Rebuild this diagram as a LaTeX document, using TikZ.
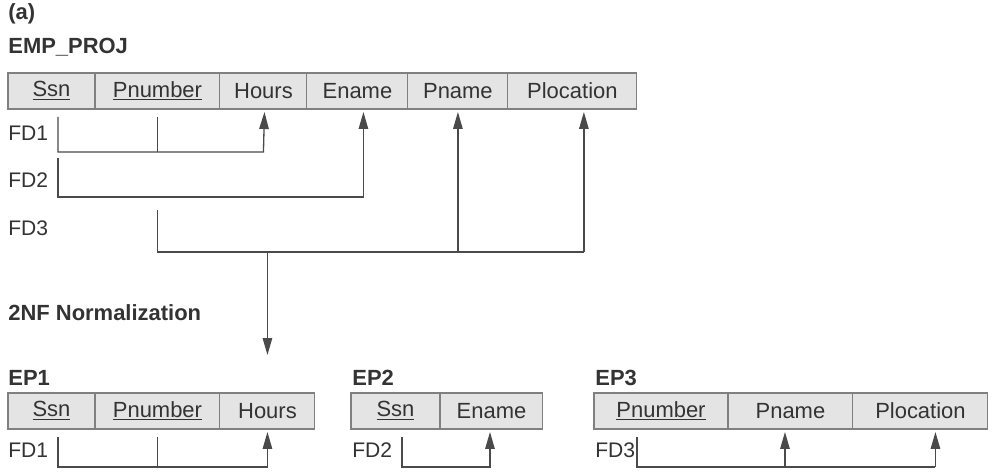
\documentclass[tikz,border=0pt]{standalone}
\usepackage{fontspec}
\setmainfont{Liberation Sans}
\usetikzlibrary{positioning, arrows.meta, calc}
\definecolor{cellFill}{HTML}{E4E4E4}
\definecolor{cellLine}{HTML}{808080}
\definecolor{inkGray}{HTML}{333333}
\definecolor{wireGray}{HTML}{4A4A4A}
\newcommand{\keyattr}[1]{\underline{#1}}

\begin{document}
\begin{tikzpicture}[x=0.02cm, y=-0.02cm,
  cell/.style={draw=cellLine, fill=cellFill, line width=0.6pt,
               minimum height=0.72cm, inner sep=0pt, outer sep=0pt,
               anchor=west, font=\fontsize{12.5}{14}\selectfont, text=inkGray},
  title/.style={anchor=west, inner sep=0pt,
                font=\bfseries\fontsize{12.5}{14}\selectfont, text=inkGray},
  fdlab/.style={anchor=west, inner sep=0pt,
                font=\fontsize{12}{14}\selectfont, text=inkGray},
  wire/.style={draw=wireGray, line width=0.75pt},
  arr/.style={wire, -{Triangle[length=0.34cm, width=0.19cm]}}
]
\useasboundingbox (0,0) rectangle (997,472);

% EMP_PROJ relation
\node[title] (lblA) at (8,14) {(a)};
\node[title] (empT) at (8,47) {EMP\_PROJ};
\node[cell, minimum width=1.74cm] (ssn) at (8,91) {\keyattr{Ssn}};
\node[cell, minimum width=2.5cm, right=0pt of ssn] (pnum) {\keyattr{Pnumber}};
\node[cell, minimum width=1.74cm, right=0pt of pnum] (hours) {Hours};
\node[cell, minimum width=2.02cm, right=0pt of hours] (ename) {Ename};
\node[cell, minimum width=2.0cm, right=0pt of ename] (pname) {Pname};
\node[cell, minimum width=2.58cm, right=0pt of pname] (ploc) {Plocation};

\node[fdlab] (fd1) at (8,133) {FD1};
\node[fdlab] (fd2) at (8,180) {FD2};
\node[fdlab] (fd3) at (8,228) {FD3};
\coordinate (fd1y) at (0,152);
\coordinate (fd2y) at (0,197);
\coordinate (fd3y) at (0,252);

% FD1, FD2, FD3
\draw[arr] ($(ssn.south)+(6.5,8)$) |- (hours.south |- fd1y) -- ($(hours.south)+(1,3)$);
\draw[wire] ($(pnum.south)+(0,8)$) -- (pnum.south |- fd1y);
\draw[arr] ($(ssn.south)+(6.5,49)$) |- ($(ename.south |- fd2y)+(6,0)$) -- ($(ename.south)+(6,3)$);
\draw[wire] ($(pnum.south)+(0,101)$) |- ($(ploc.south |- fd3y)+(11.5,0)$);
\draw[arr] (pname.south |- fd3y) -- ($(pname.south)+(0,3)$);
\draw[arr] ($(ploc.south |- fd3y)+(11.5,0)$) -- ($(ploc.south)+(11.5,3)$);

% normalization step
\draw[arr] ($(hours.south |- fd3y)+(4,0)$) -- ++(0,103);
\node[title] (normT) at (8,313) {2NF Normalization};

% EP1
\node[title] (ep1T) at (8,378) {EP1};
\node[cell, minimum width=1.74cm] (ssnA) at (8,411) {\keyattr{Ssn}};
\node[cell, minimum width=2.5cm, right=0pt of ssnA] (pnumA) {\keyattr{Pnumber}};
\node[cell, minimum width=1.9cm, right=0pt of pnumA] (hoursA) {Hours};
\node[fdlab] (fd1b) at (8,450) {FD1};
\draw[arr] ($(ssnA.south)+(6.5,8)$) |- ($(hoursA.south)+(0,38)$) -- ($(hoursA.south)+(0,3)$);
\draw[wire] ($(pnumA.south)+(0,8)$) -- ($(pnumA.south)+(0,38)$);

% EP2
\node[title] (ep2T) at (352,378) {EP2};
\node[cell, minimum width=1.78cm] (ssnB) at (351,411) {\keyattr{Ssn}};
\node[cell, minimum width=2.06cm, right=0pt of ssnB] (enameB) {Ename};
\node[fdlab] (fd2b) at (352,450) {FD2};
\draw[arr] ($(ssnB.south)+(6.5,8)$) |- ($(enameB.south)+(-1.5,38)$) -- ($(enameB.south)+(-1.5,3)$);

% EP3
\node[title] (ep3T) at (595,378) {EP3};
\node[cell, minimum width=2.68cm] (pnumC) at (594,411) {\keyattr{Pnumber}};
\node[cell, minimum width=2.5cm, right=0pt of pnumC] (pnameC) {Pname};
\node[cell, minimum width=2.7cm, right=0pt of pnameC] (plocC) {Plocation};
\node[fdlab] (fd3b) at (595,450) {FD3};
\draw[wire] ($(pnumC.south)+(-24,8)$) |- ($(plocC.south)+(15,38)$);
\draw[arr] ($(pnameC.south)+(-5.5,38)$) -- ($(pnameC.south)+(-5.5,3)$);
\draw[arr] ($(plocC.south)+(15,38)$) -- ($(plocC.south)+(15,3)$);
\end{tikzpicture}
\end{document}
